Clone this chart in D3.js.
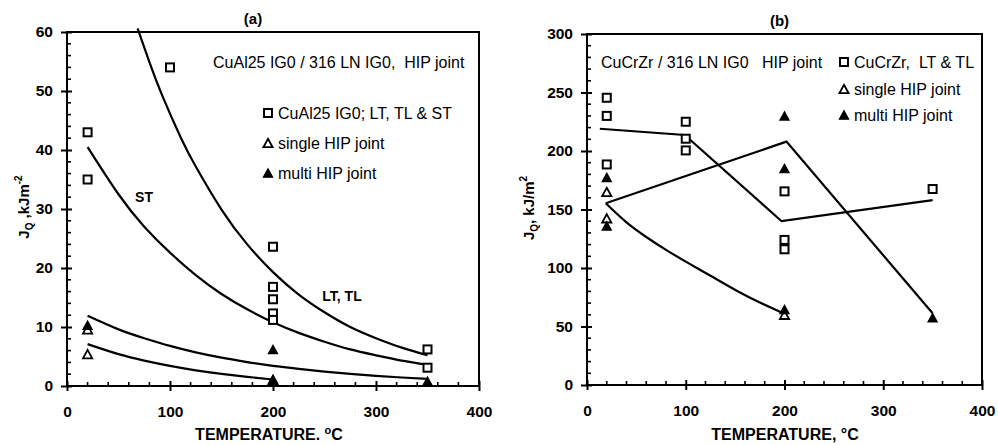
<!DOCTYPE html>
<html>
<head>
<meta charset="utf-8">
<script src="https://cdn.jsdelivr.net/npm/d3@7/dist/d3.min.js"></script>
<style>
  html, body { margin: 0; padding: 0; background: #fff; }
  svg { display: block; font-family: "Liberation Sans", Arial, Helvetica, sans-serif; }
</style>
</head>
<body>
<svg id="chart" width="998" height="445"></svg>
<script>
// ---------- Panel (a): CuAl25 IG0 / 316 LN IG0 ----------
const xTicks = [0, 100, 200, 300, 400];
const yTicksA = [0, 10, 20, 30, 40, 50, 60];
const yTicksB = [0, 50, 100, 150, 200, 250, 300];

// CuAl25 IG0 base metal (LT, TL & ST)
const aBaseT = [20, 20, 100, 200, 200, 200, 200, 200, 350, 350];
const aBaseJ = [43, 35, 54, 23.6, 16.8, 14.7, 12.3, 11.2, 6.2, 3.1];
// single HIP joint
const aSingleT = [20, 20, 200];
const aSingleJ = [5.4, 9.6, 1.0];
// multi HIP joint
const aMultiT = [20, 200, 200, 350];
const aMultiJ = [10.3, 6.2, 1.1, 0.8];

// trend curves
const aCurveLTT = [68.6, 80, 93, 111, 125, 150, 175, 200, 225, 250, 275, 300, 325, 350];
const aCurveLTJ = [60.6, 54.9, 49.0, 41.9, 37.2, 29.9, 24.0, 19.3, 15.5, 12.5, 10.0, 8.1, 6.5, 5.2];
const aCurveSTT = [20, 50, 75, 100, 125, 150, 175, 200, 225, 250, 275, 300, 325, 350];
const aCurveSTJ = [40.5, 32.5, 27.0, 22.6, 18.8, 15.6, 13.0, 10.8, 9.0, 7.5, 6.2, 5.2, 4.3, 3.6];
const aCurveMultiT = [20, 50, 75, 100, 125, 150, 175, 200, 225, 250, 275, 300, 325, 350];
const aCurveMultiJ = [11.9, 9.6, 8.1, 6.8, 5.7, 4.8, 4.05, 3.4, 2.9, 2.45, 2.05, 1.72, 1.44, 1.2];
const aCurveSingleT = [20, 50, 75, 100, 125, 150, 175, 200];
const aCurveSingleJ = [7.1, 5.4, 4.3, 3.4, 2.65, 2.05, 1.55, 1.1];

// ---------- Panel (b): CuCrZr / 316 LN IG0 ----------
const bBaseT = [20, 20, 20, 100, 100, 100, 200, 200, 200, 350];
const bBaseJ = [245.5, 230, 188.5, 225, 210.5, 200.5, 165.5, 124, 116, 167.5];
const bSingleT = [20, 20, 200];
const bSingleJ = [165, 142.5, 60];
const bMultiT = [20, 20, 200, 200, 200, 350];
const bMultiJ = [177.5, 136, 230, 185, 64.5, 57.5];

const bLineBaseT = [13, 99, 197, 350];
const bLineBaseJ = [219, 213.7, 140, 158];
const bLineMultiT = [19, 202, 350];
const bLineMultiJ = [155.3, 208, 61.3];
const bCurveSingleT = [19, 40, 60, 80, 104, 130, 154, 175, 197];
const bCurveSingleJ = [155.3, 139, 126.5, 115.5, 103.5, 91, 79.5, 70.5, 62];

const svg = d3.select("#chart");
const zip = (xs, ys) => xs.map((x, i) => [x, ys[i]]);

function triPath(cx, cy) {
  const w = 4.6, h = 4.2;
  return `M${cx},${cy - h}L${cx + w},${cy + h}L${cx - w},${cy + h}Z`;
}

function drawPanel(cfg) {
  const g = svg.append("g");
  const x = d3.scaleLinear().domain([0, 400]).range([cfg.left, cfg.right]);
  const y = d3.scaleLinear().domain([0, cfg.yMax]).range([cfg.bottom, cfg.top]);

  // frame
  g.append("rect")
    .attr("x", cfg.left).attr("y", cfg.top)
    .attr("width", cfg.right - cfg.left).attr("height", cfg.bottom - cfg.top)
    .attr("fill", "none").attr("stroke", "#000").attr("stroke-width", 2);

  // minor ticks (inward)
  const xMinor = d3.range(0, 401, 20).filter(v => v % 100 !== 0);
  g.append("g").selectAll("line").data(xMinor).join("line")
    .attr("x1", d => x(d)).attr("x2", d => x(d))
    .attr("y1", cfg.bottom).attr("y2", cfg.bottom - 4)
    .attr("stroke", "#000").attr("stroke-width", 1.6);
  const yMinor = d3.range(0, cfg.yMax + 0.001, cfg.yMinor).filter(v => Math.abs(v % cfg.yMajor) > 1e-6 && Math.abs(v % cfg.yMajor - cfg.yMajor) > 1e-6);
  g.append("g").selectAll("line").data(yMinor).join("line")
    .attr("x1", cfg.left).attr("x2", cfg.left + 4)
    .attr("y1", d => y(d)).attr("y2", d => y(d))
    .attr("stroke", "#000").attr("stroke-width", 1.6);

  // axes with crossing major ticks
  const xAxis = g.append("g").attr("transform", `translate(0,${cfg.bottom})`)
    .call(d3.axisBottom(x).tickValues(xTicks).tickSize(5).tickPadding(15).tickFormat(d3.format("d")));
  xAxis.select(".domain").remove();
  xAxis.selectAll(".tick line").attr("y1", -5).attr("y2", 5).attr("stroke-width", 2);
  xAxis.selectAll(".tick text")
    .attr("font-size", 15.5).attr("font-weight", "bold").attr("fill", "#000")
    .attr("font-family", "Liberation Sans, Arial, sans-serif");

  const yAxis = g.append("g").attr("transform", `translate(${cfg.left},0)`)
    .call(d3.axisLeft(y).tickValues(cfg.yTicks).tickSize(6).tickPadding(8).tickFormat(d3.format("d")));
  yAxis.select(".domain").remove();
  yAxis.selectAll(".tick line").attr("x1", -6).attr("x2", 5).attr("stroke-width", 2);
  yAxis.selectAll(".tick text")
    .attr("font-size", 15.5).attr("font-weight", "bold").attr("fill", "#000")
    .attr("font-family", "Liberation Sans, Arial, sans-serif");

  // trend lines
  const lineGen = d3.line().x(d => x(d[0])).y(d => y(d[1]));
  cfg.curves.forEach(c => {
    g.append("path")
      .attr("d", lineGen.curve(c.smooth ? d3.curveNatural : d3.curveLinear)(c.pts))
      .attr("fill", "none").attr("stroke", "#000").attr("stroke-width", 2.2);
  });

  // markers
  g.append("g").selectAll("rect").data(cfg.base).join("rect")
    .attr("x", d => x(d[0]) - 4).attr("y", d => y(d[1]) - 4)
    .attr("width", 8).attr("height", 8)
    .attr("fill", "#fff").attr("stroke", "#000").attr("stroke-width", 2);
  g.append("g").selectAll("path").data(cfg.single).join("path")
    .attr("d", d => triPath(x(d[0]), y(d[1])))
    .attr("fill", "#fff").attr("stroke", "#000").attr("stroke-width", 1.8);
  g.append("g").selectAll("path").data(cfg.multi).join("path")
    .attr("d", d => triPath(x(d[0]), y(d[1])))
    .attr("fill", "#000").attr("stroke", "#000").attr("stroke-width", 1.2);

  // panel letter
  g.append("text").attr("x", (cfg.left + cfg.right) / 2 - cfg.letterShift).attr("y", cfg.top - 8)
    .attr("text-anchor", "middle").attr("font-size", 15).attr("font-weight", "bold")
    .text(cfg.letter);

  return { g, x, y };
}

// ---- Panel (a)
const pa = drawPanel({
  left: 67, right: 479, top: 32, bottom: 386, yMax: 60, yMajor: 10, yMinor: 2,
  yTicks: yTicksA, letter: "(a)", letterShift: 20,
  base: zip(aBaseT, aBaseJ), single: zip(aSingleT, aSingleJ), multi: zip(aMultiT, aMultiJ),
  curves: [
    { pts: zip(aCurveLTT, aCurveLTJ), smooth: true },
    { pts: zip(aCurveSTT, aCurveSTJ), smooth: true },
    { pts: zip(aCurveMultiT, aCurveMultiJ), smooth: true },
    { pts: zip(aCurveSingleT, aCurveSingleJ), smooth: true }
  ]
});

// ---- Panel (b)
const pb = drawPanel({
  left: 587, right: 982, top: 34, bottom: 385, yMax: 300, yMajor: 50, yMinor: 10,
  yTicks: yTicksB, letter: "(b)", letterShift: 5,
  base: zip(bBaseT, bBaseJ), single: zip(bSingleT, bSingleJ), multi: zip(bMultiT, bMultiJ),
  curves: [
    { pts: zip(bLineBaseT, bLineBaseJ), smooth: false },
    { pts: zip(bLineMultiT, bLineMultiJ), smooth: false },
    { pts: zip(bCurveSingleT, bCurveSingleJ), smooth: true }
  ]
});

// ---- Legend rows
function legendRow(g, mx, my, kind, label) {
  if (kind === "sq") {
    g.append("rect").attr("x", mx - 4).attr("y", my - 4).attr("width", 8).attr("height", 8)
      .attr("fill", "#fff").attr("stroke", "#000").attr("stroke-width", 2);
  } else {
    g.append("path").attr("d", triPath(mx, my))
      .attr("fill", kind === "tri" ? "#fff" : "#000").attr("stroke", "#000")
      .attr("stroke-width", kind === "tri" ? 1.8 : 1.2);
  }
  g.append("text").attr("x", mx + 10).attr("y", my + 6).attr("font-size", 16).text(label);
}

// ---- Texts, panel (a)
const ga = pa.g;
ga.append("text").attr("x", 213).attr("y", 68).attr("font-size", 16).text("CuAl25 IG0 / 316 LN IG0,\u00a0 HIP joint");
legendRow(ga, 268, 113, "sq", "CuAl25 IG0; LT, TL & ST");
legendRow(ga, 268, 143, "tri", "single HIP joint");
legendRow(ga, 268, 173, "fill", "multi HIP joint");
ga.append("text").attr("x", 144).attr("y", 202).attr("text-anchor", "middle")
  .attr("font-size", 14).attr("font-weight", "bold").text("ST");
ga.append("text").attr("x", 342).attr("y", 301).attr("text-anchor", "middle")
  .attr("font-size", 14).attr("font-weight", "bold").text("LT, TL");

const xtA = ga.append("text").attr("x", 269).attr("y", 440).attr("text-anchor", "middle")
  .attr("font-size", 16).attr("font-weight", "bold");
xtA.append("tspan").text("TEMPERATURE. ");
xtA.append("tspan").attr("font-size", 11).attr("dy", -6).text("o");
xtA.append("tspan").attr("dy", 6).text("C");

const ytA = ga.append("text").attr("transform", "translate(29,207) rotate(-90)")
  .attr("text-anchor", "middle").attr("font-size", 15).attr("font-weight", "bold");
ytA.append("tspan").text("J");
ytA.append("tspan").attr("font-size", 10).attr("dy", 4).text("Q");
ytA.append("tspan").attr("dy", -4).text(" ,kJm");
ytA.append("tspan").attr("font-size", 10).attr("dy", -7).text("-2");

// ---- Texts, panel (b)
const gb = pb.g;
gb.append("text").attr("x", 601).attr("y", 68).attr("font-size", 16).text("CuCrZr / 316 LN IG0\u00a0\u00a0 HIP joint");
legendRow(gb, 844, 62, "sq", "CuCrZr,\u00a0 LT & TL");
legendRow(gb, 844, 89, "tri", "single HIP joint");
legendRow(gb, 844, 115, "fill", "multi HIP joint");

gb.append("text").attr("x", 785).attr("y", 440).attr("text-anchor", "middle")
  .attr("font-size", 16).attr("font-weight", "bold").text("TEMPERATURE, \u00b0C");

const ytB = gb.append("text").attr("transform", "translate(534,208) rotate(-90)")
  .attr("text-anchor", "middle").attr("font-size", 15).attr("font-weight", "bold");
ytB.append("tspan").text("J");
ytB.append("tspan").attr("font-size", 10).attr("dy", 4).text("Q");
ytB.append("tspan").attr("dy", -4).text(", kJ/m");
ytB.append("tspan").attr("font-size", 10).attr("dy", -7).text("2");
</script>
</body>
</html>
